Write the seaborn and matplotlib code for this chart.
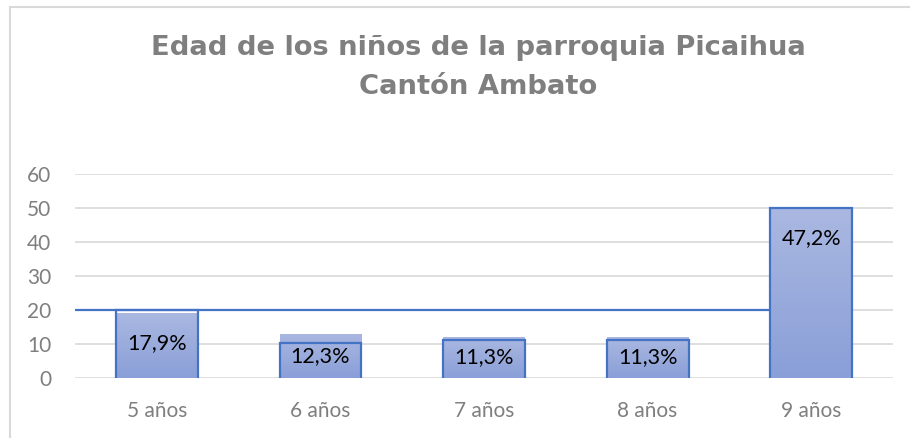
import numpy as np
import pandas as pd
import matplotlib
matplotlib.use("Agg")
import matplotlib.pyplot as plt
import seaborn as sns
from matplotlib.patches import Rectangle

categories = ["5 años", "6 años", "7 años", "8 años", "9 años"]
counts = [19, 13, 12, 12, 50]
percent_labels = ["17,9%", "12,3%", "11,3%", "11,3%", "47,2%"]
# outline boxes sit at slightly different heights than the fills in the original
outline_tops = [20, 10.3, 11, 11, 50]
ref_level = 20
y_ticks = [0, 10, 20, 30, 40, 50, 60]
title = "Edad de los niños de la parroquia Picaihua\nCantón Ambato"

sns.set_theme(style="white")
plt.rcParams["font.family"] = ["Lato", "DejaVu Sans"]

df = pd.DataFrame({"edad": categories, "n": counts})

fig = plt.figure(figsize=(9.1, 4.38), dpi=100)
ax = fig.add_axes([75 / 910, 1 - 377.7 / 438, 818 / 910, 203.7 / 438])

sns.barplot(data=df, x="edad", y="n", ax=ax, width=0.5, color="#98AADC",
            edgecolor="none", zorder=3)

# gradient fill clipped to each bar
grad = np.linspace(0, 1, 256).reshape(-1, 1)
cmap = matplotlib.colors.LinearSegmentedColormap.from_list(
    "bar", ["#8A9FD8", "#AAB8E1"])
for p in ax.patches:
    x0, y0 = p.get_x(), p.get_y()
    w, h = p.get_width(), p.get_height()
    im = ax.imshow(grad, cmap=cmap, origin="lower", aspect="auto",
                   extent=(x0, x0 + w, y0, y0 + h), zorder=3)
    im.set_clip_path(p)
    p.set_facecolor("none")

# open outlines (left, top, right)
for i, top in enumerate(outline_tops):
    ax.plot([i - 0.25, i - 0.25, i + 0.25, i + 0.25], [0, top, top, 0],
            color="#4472C4", lw=1.6, zorder=4, solid_joinstyle="miter")

ax.hlines(ref_level, -0.5, len(categories) - 1.25, color="#4472C4", lw=1.6,
          zorder=4)

for i, (v, lab) in enumerate(zip(counts, percent_labels)):
    ax.text(i, max(v - 8.8, v / 2), lab, ha="center", va="center",
            fontsize=15.5, color="black", zorder=5)

ax.set_xlim(-0.5, len(categories) - 0.5)
ax.set_ylim(0, 60)
ax.set_yticks(y_ticks)
ax.yaxis.grid(True, color="#D9D9D9", lw=1.2, zorder=0)
ax.set_axisbelow(True)
for s in ax.spines.values():
    s.set_visible(False)
ax.tick_params(axis="both", length=0, labelsize=15, labelcolor="#7F7F7F")
ax.tick_params(axis="y", pad=17)
ax.tick_params(axis="x", pad=17)
ax.set_xlabel("")
ax.set_ylabel("")

fig.text(478 / 910, 1 - 67.5 / 438, title, ha="center", va="center",
         fontsize=19.7, fontweight="heavy", color="#7F7F7F",
         family=["DejaVu Sans"], linespacing=1.65)

# chart frame (top and left edges visible)
fig.patches.append(Rectangle((10 / 910, -0.1), 1.2, 1.1 - 7 / 438,
                             transform=fig.transFigure, fill=False,
                             edgecolor="#D9D9D9", lw=1.5))

fig.savefig("out.png", dpi=100)
